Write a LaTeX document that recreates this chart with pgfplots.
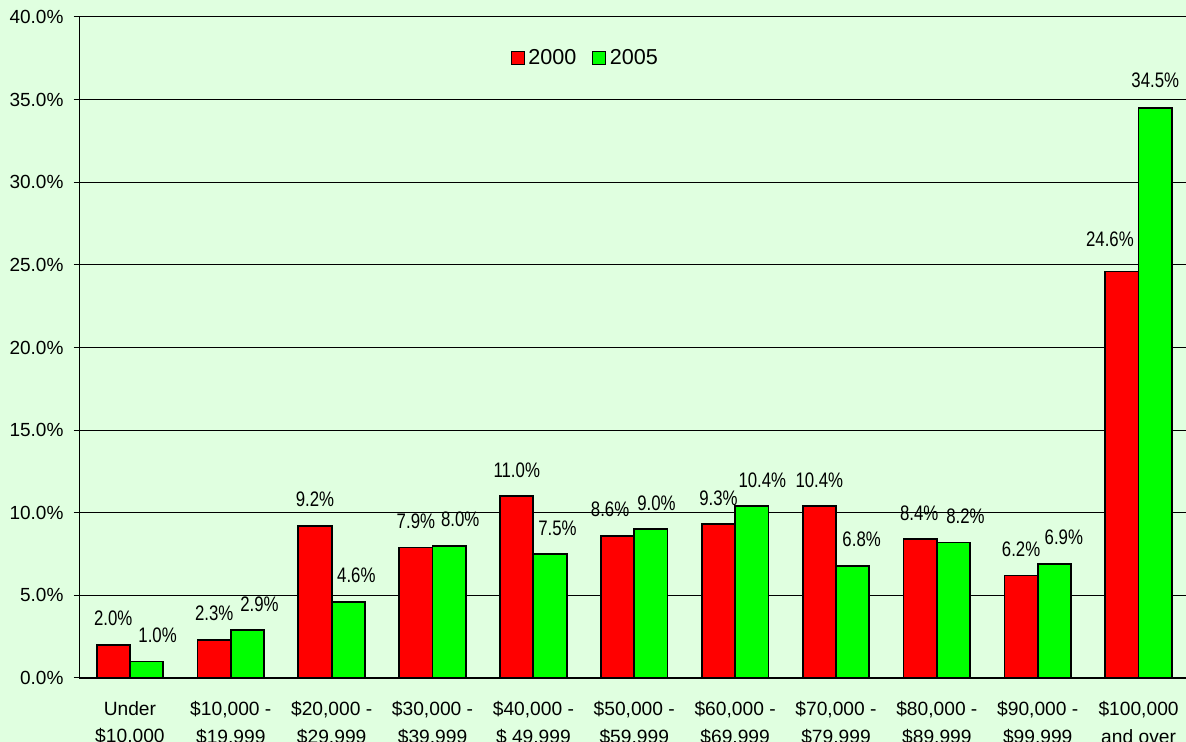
\documentclass[border=0pt]{standalone}
\usepackage{fontspec}
\setmainfont{Liberation Sans}
\usepackage{graphicx}
\usepackage{pgfplots}
\usepackage{pgfplotstable}
\pgfplotsset{compat=1.18}
\definecolor{bg}{RGB}{224,255,224}
\definecolor{bred}{RGB}{255,0,0}
\definecolor{bgreen}{RGB}{0,255,0}
% dx, dy: label offsets in pt
\pgfplotstableread{
x  y     dx    dy
0  2.0   0     0
1  2.3   0     0
2  9.2   0     0
3  7.9   0     0
4  11.0  0     0
5  8.6   -3.75 0
6  9.3   0     0
7  10.4  0     0
8  8.4   -0.5  0
9  6.2   0     0
10 24.6  -6    3
}\dataA
\pgfplotstableread{
x  y     dx    dy
0  1.0   5.5   0
1  2.9   6     0
2  4.6   4     0
3  8.0   5.5   0
4  7.5   3.75  0
5  9.0   2.75  0
6  10.4  5.3   0
7  6.8   4.5   0
8  8.2   6     0
9  6.9   4.75  0
10 34.5  0     0.5
}\dataB
\begin{document}
\begin{tikzpicture}
\fill[bg, use as bounding box] (-39.75pt,-32pt) rectangle (553.25pt,339pt);
\begin{axis}[
  at={(0pt,0pt)}, anchor=south west,
  scale only axis, width=554.75pt, height=330.5pt,
  ybar=0pt, bar width=0.33,
  xmin=-0.5, xmax=10.5, ymin=0, ymax=40,
  enlargelimits=false,
  axis x line*=bottom, axis y line*=left,
  axis line style={line width=0.6pt, black, -},
  ytick={0,5,...,40},
  ymajorgrids, major grid style={black, line width=0.5pt},
  /pgf/number format/assume math mode=true,
  yticklabel={\pgfmathprintnumber[fixed,fixed zerofill,precision=1]{\tick}\%},
  yticklabel style={font=\fontsize{9.5}{11}\selectfont, xshift=-1.5pt},
  tick align=outside, major tick length=3pt,
  tick style={black, line width=0.5pt},
  xtick={0,...,10},
  major x tick style={draw=none},
  xticklabels={{Under\\\$10,000}, {\$10,000 -\\\$19,999}, {\$20,000 -\\\$29,999}, {\$30,000 -\\\$39,999}, {\$40,000 -\\\$ 49,999}, {\$50,000 -\\\$59,999}, {\$60,000 -\\\$69,999}, {\$70,000 -\\\$79,999}, {\$80,000 -\\\$89,999}, {\$90,000 -\\\$99,999}, {\$100,000\\and over}},
  xticklabel style={font=\fontsize{9.6}{13.8}\selectfont, align=center, anchor=north, inner sep=0pt, yshift=-8.5pt},
  extra x ticks={-0.5,0.5,1.5,2.5,3.5,4.5,5.5,6.5,7.5,8.5,9.5},
  extra x tick labels={},
  extra x tick style={major tick length=3pt, tick style={black, line width=0.5pt, draw=black}, grid=none},
  legend image code/.code={\draw[#1, line width=0.6pt] (0pt,-3.25pt) rectangle (6.5pt,3.25pt);},
  legend style={at={(0.4565,0.938)}, anchor=center, draw=none, fill=none,
    legend columns=2, font=\fontsize{10.8}{12}\selectfont,
    /tikz/every even column/.append style={column sep=6pt},
    nodes={inner sep=1.8pt}},
]
\addplot[fill=bred, draw=black, line width=0.9pt,
  visualization depends on={\thisrow{dx} \as \labeldx},
  visualization depends on={\thisrow{dy} \as \labeldy},
  nodes near coords={\scalebox{0.8}[1]{\pgfmathprintnumber[fixed,fixed zerofill,precision=1]{\pgfplotspointmeta}\%}},
  every node near coord/.append style={font=\fontsize{10.5}{12}\selectfont, anchor=base, inner sep=0pt, yshift=9.5pt, xshift=\labeldx pt, yshift=\labeldy pt}]
  table[x=x, y=y] {\dataA};
\addplot[fill=bgreen, draw=black, line width=0.9pt,
  visualization depends on={\thisrow{dx} \as \labeldx},
  visualization depends on={\thisrow{dy} \as \labeldy},
  nodes near coords={\scalebox{0.8}[1]{\pgfmathprintnumber[fixed,fixed zerofill,precision=1]{\pgfplotspointmeta}\%}},
  every node near coord/.append style={font=\fontsize{10.5}{12}\selectfont, anchor=base, inner sep=0pt, yshift=9.5pt, xshift=\labeldx pt, yshift=\labeldy pt}]
  table[x=x, y=y] {\dataB};
\legend{2000,2005}
\end{axis}
\end{tikzpicture}
\end{document}
